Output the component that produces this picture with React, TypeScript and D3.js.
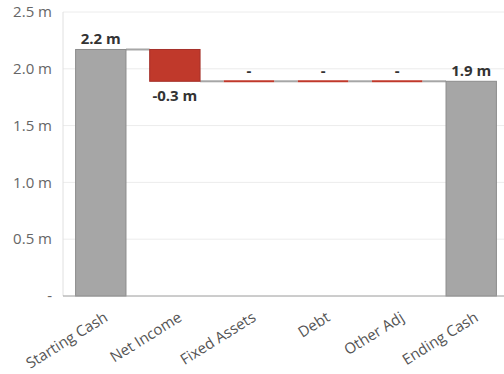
import React from "react";
import * as d3 from "d3";

const categories = ["Starting Cash", "Net Income", "Fixed Assets", "Debt", "Other Adj", "Ending Cash"];
const values = [2.17, -0.28, 0, 0, 0, 1.89];
const isTotal = [true, false, false, false, false, true];
const labels = ["2.2 m", "-0.3 m", "-", "-", "-", "1.9 m"];
const yTicks = [0, 0.5, 1.0, 1.5, 2.0, 2.5];
const yTickLabels = ["-", "0.5 m", "1.0 m", "1.5 m", "2.0 m", "2.5 m"];

const W = 504, H = 374;
const M = { left: 63, right: 0, top: 12, bottom: 78 };

export default function App() {
  const x = d3.scaleBand<string>().domain(categories).range([M.left, 509]).paddingInner(0.32).paddingOuter(0.17);
  const y = d3.scaleLinear().domain([0, 2.5]).range([H - M.bottom, M.top]);
  const font = "'Open Sans', 'Noto Sans', sans-serif";

  let running = 0;
  const bars = categories.map((c, i) => {
    let y0: number, y1: number;
    if (isTotal[i]) { y0 = 0; y1 = values[i]; running = values[i]; }
    else { y0 = running; y1 = running + values[i]; running = y1; }
    return { c, i, y0, y1, end: running };
  });

  return (
    <svg width={W} height={H} style={{ position: "absolute", left: 0, top: 0 }} fontFamily={font}>
      {yTicks.map((t, k) => (
        <g key={k}>
          {t > 0 && <line x1={M.left} x2={W} y1={y(t)} y2={y(t)} stroke="#ececec" strokeWidth={1} />}
          <text x={52} y={y(t)} dy="0.35em" textAnchor="end" fontSize={15} fill="#666">{yTickLabels[k]}</text>
        </g>
      ))}
      <line x1={M.left} x2={M.left} y1={M.top} y2={y(0)} stroke="#e0e0e0" />
      {bars.slice(0, -1).map((b) => (
        <line key={"c" + b.i} x1={x(b.c)! + x.bandwidth()} x2={x(categories[b.i + 1])!} y1={y(b.end)} y2={y(b.end)} stroke="#a6a6a6" strokeWidth={2} />
      ))}
      {bars.map((b) => {
        const top = y(Math.max(b.y0, b.y1));
        const bot = y(Math.min(b.y0, b.y1));
        const h = bot - top;
        const fill = isTotal[b.i] ? "#a6a6a6" : "#c0392b";
        const stroke = isTotal[b.i] ? "#8c8c8c" : "#a5302a";
        return h > 0.5 ? (
          <rect key={b.i} x={x(b.c)} y={top} width={x.bandwidth()} height={h} fill={fill} stroke={stroke} strokeWidth={1} />
        ) : (
          <line key={b.i} x1={x(b.c)} x2={x(b.c)! + x.bandwidth()} y1={top} y2={top} stroke={fill} strokeWidth={2} />
        );
      })}
      <line x1={M.left} x2={W} y1={y(0)} y2={y(0)} stroke="#9a9a9a" strokeWidth={1} />
      {bars.map((b) => {
        const cx = x(b.c)! + x.bandwidth() / 2;
        const neg = values[b.i] < 0;
        const ty = neg ? y(Math.min(b.y0, b.y1)) + 20 : y(Math.max(b.y0, b.y1)) - 5;
        return (
          <text key={"l" + b.i} x={cx} y={ty} textAnchor="middle" fontSize={15} fontWeight="bold" fill="#333">{labels[b.i]}</text>
        );
      })}
      {categories.map((c) => {
        const cx = x(c)! + x.bandwidth() / 2 + 8;
        return (
          <text key={"x" + c} transform={`translate(${cx},${y(0) + 24}) rotate(-32)`} textAnchor="end" fontSize={15} fill="#555">{c}</text>
        );
      })}
    </svg>
  );
}
